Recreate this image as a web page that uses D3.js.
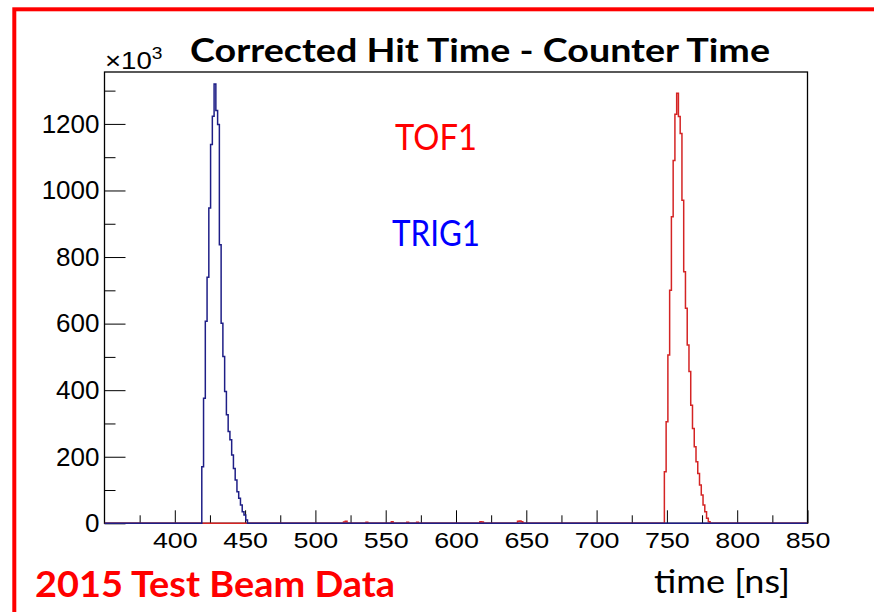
<!DOCTYPE html>
<html>
<head>
<meta charset="utf-8">
<script src="https://cdn.jsdelivr.net/npm/d3@7"></script>
<style>
body { margin: 0; background: #fff; }
svg { display: block; }
.axis text { font-family: "Liberation Sans", Arial, sans-serif; fill: #000; }
.axis line { stroke: #000; stroke-width: 1; }
</style>
</head>
<body>
<svg id="chart" width="874" height="612"></svg>
<script>
// histogram data (counts in units of 10^3)
var binWidth = 1.25;
var blueStart = 419.2;
var blueCounts = [170, 376, 607, 739, 947, 1138, 1223, 1320, 1240, 1198, 837, 601, 501,
	396, 326, 276, 251, 205, 165, 130, 95, 75, 55, 35, 25, 10];
var redStart = 748.2;
var redCounts = [155, 305, 506, 700, 921, 1090, 1229, 1292, 1222, 1171, 971, 756, 646,
	536, 456, 355, 285, 230, 185, 150, 115, 85, 55, 35, 15, 5];
// small stray entries along the baseline
var redNoiseTimes = [520, 521.25, 536, 554, 565, 572, 617, 618.25, 643.75, 645, 646.25];
var redNoiseCounts = [4, 6, 3, 5, 3, 3, 5, 4, 6, 7, 5];

var xMajor = [400, 450, 500, 550, 600, 650, 700, 750, 800, 850];
var xMinor = [375, 425, 475, 525, 575, 625, 675, 725, 775, 825];
var yMajor = [0, 200, 400, 600, 800, 1000, 1200];
var yMinor = [100, 300, 500, 700, 900, 1100, 1300];

var margin = { left: 104.5, right: 66.5, top: 72, bottom: 88.7 };
var width = 874 - margin.left - margin.right;
var height = 612 - margin.top - margin.bottom;

var svg = d3.select('#chart');

// red outer frame (runs off the right and bottom edges)
svg.append('rect')
	.attr('x', 14.3)
	.attr('y', 9.3)
	.attr('width', 900)
	.attr('height', 700)
	.attr('fill', 'none')
	.attr('stroke', '#ff0000')
	.attr('stroke-width', 4);

var g = svg.append('g')
	.attr('transform', 'translate(' + margin.left + ',' + margin.top + ')');

var x = d3.scaleLinear().domain([350, 850]).range([0, width]);
var y = d3.scaleLinear().domain([0, 1356]).range([height, 0]);

function makeBins(starts, counts) {
	return counts.map(function(c, i) {
		return { x0: starts[i], x1: starts[i] + binWidth, v: c };
	});
}

function stepPoints(bins) {
	bins.sort(function(a, b) { return a.x0 - b.x0; });
	var pts = [[x.domain()[0], 0]];
	var last = null;
	bins.forEach(function(b) {
		if (last === null || Math.abs(b.x0 - last) > 1e-6) {
			if (last !== null) pts.push([last, 0]);
			pts.push([b.x0, 0]);
		}
		pts.push([b.x0, b.v], [b.x1, b.v]);
		last = b.x1;
	});
	pts.push([last, 0], [x.domain()[1], 0]);
	return pts;
}

var blueBins = makeBins(blueCounts.map(function(d, i) { return blueStart + i * binWidth; }), blueCounts);
var redBins = makeBins(redCounts.map(function(d, i) { return redStart + i * binWidth; }), redCounts)
	.concat(makeBins(redNoiseTimes, redNoiseCounts));

var line = d3.line()
	.x(function(d) { return x(d[0]); })
	.y(function(d) { return y(d[1]); });

g.append('clipPath').attr('id', 'plotclip')
	.append('rect').attr('x', 0).attr('y', -2).attr('width', width).attr('height', height + 4);

// axes with ticks pointing into the frame
var xMinorAxis = g.append('g').attr('class', 'axis')
	.attr('transform', 'translate(0,' + height + ')')
	.call(d3.axisBottom(x).tickValues(xMinor).tickSizeInner(-8).tickSizeOuter(0).tickFormat(''));
xMinorAxis.select('.domain').remove();

var xAxis = g.append('g').attr('class', 'axis')
	.attr('transform', 'translate(0,' + height + ')')
	.call(d3.axisBottom(x).tickValues(xMajor).tickSizeInner(-13).tickSizeOuter(0).tickPadding(9)
		.tickFormat(d3.format('d')));
xAxis.select('.domain').remove();
xAxis.selectAll('text')
	.attr('font-size', 22)
	.attr('transform', 'scale(1.22,1)');

var yMinorAxis = g.append('g').attr('class', 'axis')
	.call(d3.axisLeft(y).tickValues(yMinor).tickSizeInner(-11).tickSizeOuter(0).tickFormat(''));
yMinorAxis.select('.domain').remove();

var yAxis = g.append('g').attr('class', 'axis')
	.call(d3.axisLeft(y).tickValues(yMajor).tickSizeInner(-21).tickSizeOuter(0).tickPadding(5)
		.tickFormat(d3.format('d')));
yAxis.select('.domain').remove();
yAxis.selectAll('text').attr('font-size', 26);

// frame
g.append('rect')
	.attr('width', width)
	.attr('height', height)
	.attr('fill', 'none')
	.attr('stroke', '#000')
	.attr('stroke-width', 1.3);

// histograms
g.append('path')
	.datum(stepPoints(redBins))
	.attr('clip-path', 'url(#plotclip)')
	.attr('fill', 'none')
	.attr('stroke', '#d42424')
	.attr('stroke-width', 1.5)
	.attr('d', line);

g.append('path')
	.datum(stepPoints(blueBins))
	.attr('clip-path', 'url(#plotclip)')
	.attr('fill', 'none')
	.attr('stroke', '#1e1e86')
	.attr('stroke-width', 1.5)
	.attr('d', line);

// x10^3 multiplier
var mult = svg.append('text')
	.attr('transform', 'translate(105,69) scale(1.2,1)')
	.attr('font-family', '"Liberation Sans", Arial, sans-serif')
	.attr('font-size', 23)
	.attr('fill', '#000');
mult.append('tspan').text('\u00d710');
mult.append('tspan').attr('font-size', 16).attr('dy', -10).text('3');

// labels
var labelFont = 'Lato, "Open Sans", sans-serif';

svg.append('text')
	.attr('x', 190).attr('y', 62)
	.attr('font-family', labelFont)
	.attr('font-weight', 'bold')
	.attr('font-size', 32)
	.attr('textLength', 580)
	.attr('lengthAdjust', 'spacingAndGlyphs')
	.attr('fill', '#000')
	.text('Corrected Hit Time - Counter Time');

svg.append('text')
	.attr('x', 395).attr('y', 150)
	.attr('font-family', labelFont)
	.attr('font-size', 36)
	.attr('textLength', 82)
	.attr('lengthAdjust', 'spacingAndGlyphs')
	.attr('fill', '#ff0000')
	.text('TOF1');

svg.append('text')
	.attr('x', 392).attr('y', 246)
	.attr('font-family', labelFont)
	.attr('font-size', 36)
	.attr('textLength', 88)
	.attr('lengthAdjust', 'spacingAndGlyphs')
	.attr('fill', '#0000ff')
	.text('TRIG1');

svg.append('text')
	.attr('x', 35).attr('y', 597)
	.attr('font-family', labelFont)
	.attr('font-weight', 'bold')
	.attr('font-size', 37)
	.attr('textLength', 360)
	.attr('lengthAdjust', 'spacingAndGlyphs')
	.attr('fill', '#ff0000')
	.text('2015 Test Beam Data');

svg.append('text')
	.attr('x', 654).attr('y', 593)
	.attr('font-family', labelFont)
	.attr('font-size', 33)
	.attr('textLength', 136)
	.attr('lengthAdjust', 'spacingAndGlyphs')
	.attr('fill', '#000')
	.text('time [ns]');
</script>
</body>
</html>
